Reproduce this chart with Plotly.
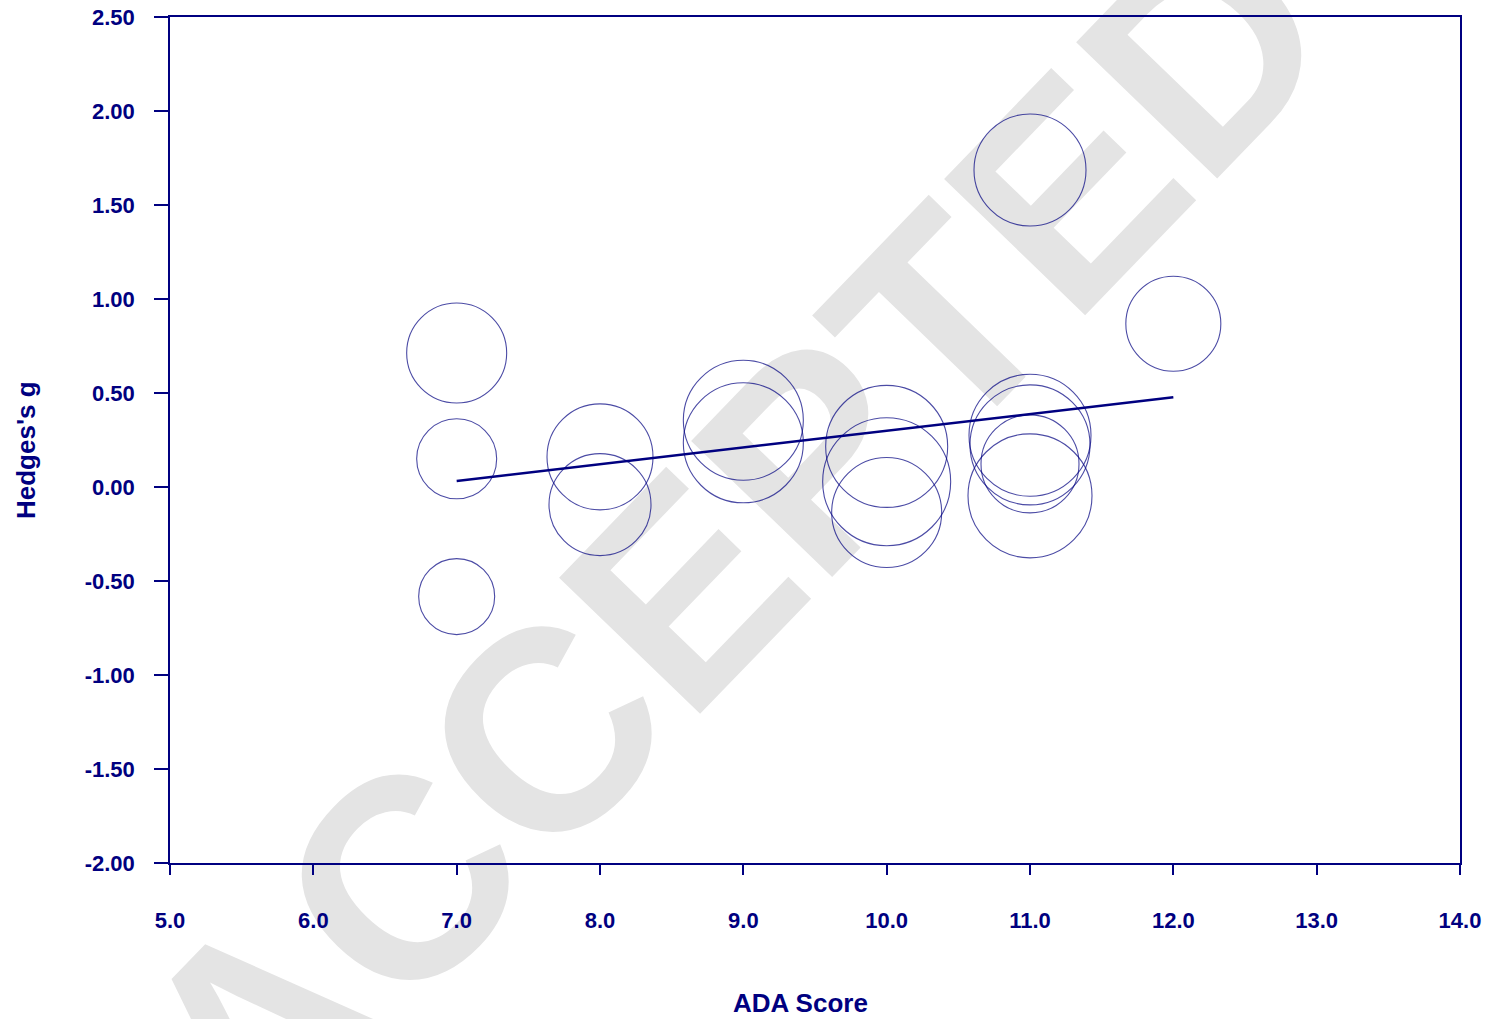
import plotly.graph_objects as go

# ---- data ----
ada_score = [7, 7, 7, 8, 8, 9, 9, 10, 10, 10, 11, 11, 11, 11, 11, 12]
hedges_g = [0.713, 0.150, -0.583, 0.160, -0.094, 0.355, 0.235,
            0.216, 0.028, -0.136, 1.686, 0.275, 0.224, 0.123, -0.047, 0.868]
study_weight = [50, 40, 38, 53, 51, 60, 60, 61, 64, 55, 56, 61, 60, 49, 62, 47.5]

reg_x = [7, 12]
reg_y = [0.032, 0.477]

x_ticks = [5, 6, 7, 8, 9, 10, 11, 12, 13, 14]
x_tick_text = ["5.0", "6.0", "7.0", "8.0", "9.0", "10.0", "11.0", "12.0", "13.0", "14.0"]
y_ticks = [2.5, 2.0, 1.5, 1.0, 0.5, 0.0, -0.5, -1.0, -1.5, -2.0]
y_tick_text = ["2.50", "2.00", "1.50", "1.00", "0.50", "0.00", "-0.50", "-1.00", "-1.50", "-2.00"]

NAVY = "#000080"
FONT = "Liberation Sans, Arial, sans-serif"

fig = go.Figure()

fig.add_trace(go.Scatter(
    x=ada_score, y=hedges_g, mode="markers",
    marker=dict(
        size=study_weight, sizemode="diameter", sizeref=0.5,
        color="rgba(0,0,0,0)",
        line=dict(color=NAVY, width=1.1),
    ),
    cliponaxis=False, showlegend=False, hoverinfo="x+y",
))

fig.add_trace(go.Scatter(
    x=reg_x, y=reg_y, mode="lines",
    line=dict(color=NAVY, width=2.5),
    showlegend=False,
))

# watermark
fig.add_shape(
    type="rect", xref="paper", yref="paper",
    x0=0.415, x1=0.425, y0=0.40, y1=0.41,
    line=dict(width=0), fillcolor="rgba(0,0,0,0)", layer="below",
    label=dict(text="<b>ACCEPTED</b>", textangle=-46, textposition="middle center",
               font=dict(family=FONT, size=285, color="#e4e4e4")),
)

fig.update_layout(
    width=1485, height=1019,
    margin=dict(l=170, r=25, t=17, b=156, autoexpand=False),
    paper_bgcolor="white", plot_bgcolor="rgba(0,0,0,0)",
    font=dict(family=FONT, color=NAVY),
    xaxis=dict(
        range=[5, 14], tickvals=x_ticks, ticktext=x_tick_text,
        showgrid=False, zeroline=False, automargin=False,
        showline=True, linecolor=NAVY, linewidth=1.5, mirror=True,
        ticks="outside", ticklen=10, tickwidth=1.5, tickcolor=NAVY,
        tickfont=dict(family=FONT, size=22, color=NAVY, weight="bold"),
        ticklabelstandoff=27,
    ),
    yaxis=dict(
        range=[-2.0, 2.5], tickvals=y_ticks, ticktext=y_tick_text,
        showgrid=False, zeroline=False, automargin=False,
        showline=True, linecolor=NAVY, linewidth=1.5, mirror=True,
        ticks="outside", ticklen=14, tickwidth=1.5, tickcolor=NAVY,
        tickfont=dict(family=FONT, size=22, color=NAVY, weight="bold"),
        ticklabelstandoff=15,
    ),
    annotations=[
        dict(text="<b>ADA Score</b>", xref="paper", yref="paper", x=0.5, y=0,
             xanchor="center", yanchor="middle", xshift=-15, yshift=-140,
             showarrow=False, font=dict(family=FONT, size=26, color=NAVY)),
        dict(text="<b>Hedges's g</b>", xref="paper", yref="paper", x=0, y=0.5,
             xanchor="center", yanchor="middle", xshift=-144, yshift=-10,
             textangle=-90,
             showarrow=False, font=dict(family=FONT, size=26, color=NAVY)),
    ],
)

fig.write_html("out.html",
               config={"displayModeBar": False},
               post_script="document.body.style.margin='0';document.body.style.overflow='hidden';")
